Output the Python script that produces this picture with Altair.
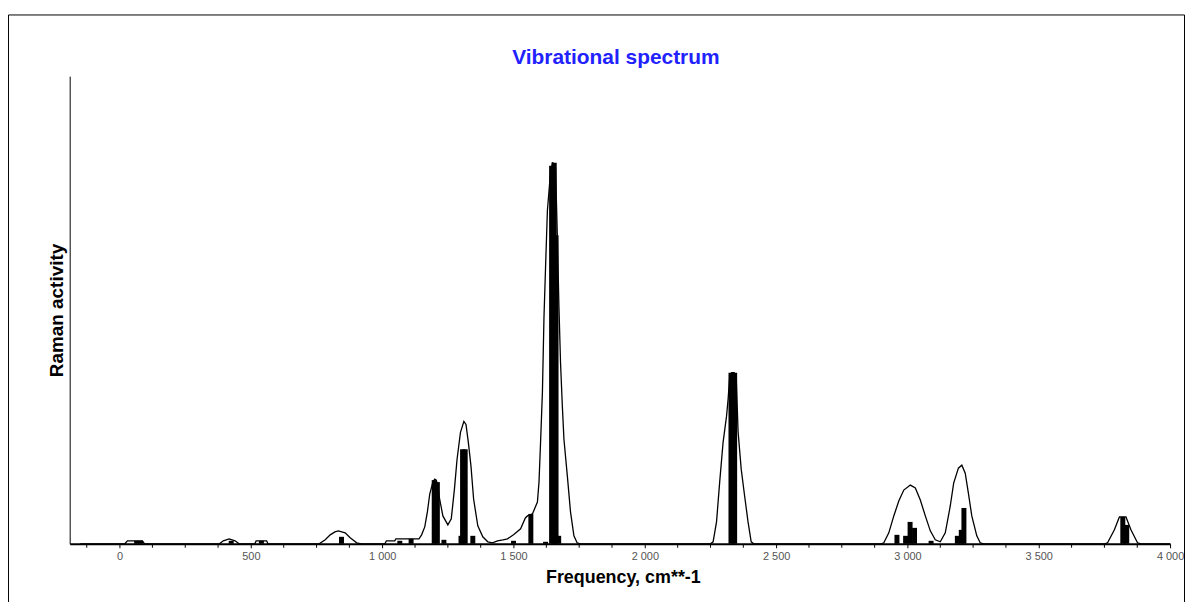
import altair as alt
import pandas as pd

# Broadened spectrum (envelope)
curve_freq = [-150, 20, 30, 87, 95,
              380, 395, 417, 440, 455,
              515, 520, 560, 565,
              760, 783, 802, 820, 833, 859, 878, 903, 920,
              1010, 1016, 1048, 1052, 1140, 1150, 1162, 1172, 1181, 1193, 1200, 1206, 1212, 1218,
              1231, 1250, 1263, 1275, 1285, 1298, 1311, 1319, 1328, 1338, 1348, 1364, 1383, 1402,
              1420, 1439, 1460, 1477, 1500, 1527, 1545, 1553, 1572, 1591, 1597, 1603, 1610, 1616,
              1622, 1629, 1640, 1648, 1655, 1660, 1667, 1673, 1679, 1686, 1692, 1705, 1717, 1730,
              1742, 1755,
              2250, 2260, 2273, 2285, 2298, 2311, 2317, 2323, 2330, 2340, 2348, 2355, 2367, 2380,
              2393, 2405, 2415,
              2900, 2910, 2929, 2948, 2967, 2986, 3011, 3030, 3049, 3068, 3087, 3106, 3125, 3144,
              3163, 3176, 3194, 3207, 3220, 3232, 3245, 3264, 3277, 3290,
              3750, 3762, 3788, 3807, 3832, 3851, 3876, 3890, 4000]
curve_int = [0, 0, 3, 3, 0,
             0, 3, 5, 3, 0,
             0, 3, 3, 0,
             0, 4, 9, 12, 13, 11, 6, 1, 0,
             0, 3, 3, 5, 5, 9, 17, 32, 50, 62, 65, 64, 58, 46,
             28, 19, 25, 55, 85, 112, 123, 120, 102, 78, 45, 18, 7, 2,
             1, 3, 4, 5, 9, 15, 26, 28, 30, 42, 62, 102, 152, 228,
             278, 335, 370, 383, 382, 378, 308, 238, 182, 138, 105, 68, 32, 8,
             1, 0,
             0, 2, 22, 62, 102, 128, 145, 167, 172, 172, 168, 113, 75, 48,
             22, 2, 0,
             0, 1, 11, 28, 43, 54, 59, 56, 44, 28, 13, 4, 2, 11,
             38, 61, 76, 79, 71, 51, 28, 8, 1, 0,
             0, 1, 14, 27, 27, 14, 1, 0, 0]

# Stick spectrum (individual modes)
bar_freq = [65, 80, 425, 540, 845, 1067, 1110, 1198, 1210, 1235, 1300, 1306, 1316, 1345,
            1500, 1566, 1622, 1645, 1655, 1662, 1672, 2328, 2342, 2960, 2993, 3010, 3027,
            3090, 3190, 3205, 3215, 3820, 3835]
bar_int = [3, 3, 3, 3, 7, 3, 5, 64, 62, 4, 8, 95, 95, 8,
           3, 30, 2, 380, 383, 310, 8, 172, 172, 9, 8, 22, 16,
           3, 8, 14, 36, 27, 19]

# Axis ticks
x_label_values = [0, 500, 1000, 1500, 2000, 2500, 3000, 3500, 4000]
x_minor_ticks = [-125, 125, 250, 375, 625, 750, 875, 1125, 1250, 1375, 1625, 1750, 1875,
                 2125, 2250, 2375, 2625, 2750, 2875, 3125, 3250, 3375, 3625, 3750, 3875]
x_domain = [-190, 4000]
y_domain = [0, 470]

FONT = "Liberation Sans"

curve_df = pd.DataFrame({"freq": curve_freq, "val": curve_int})
bar_df = pd.DataFrame({"freq": bar_freq, "val": bar_int})
minor_df = pd.DataFrame({"freq": x_minor_ticks})

x_scale = alt.Scale(domain=x_domain, nice=False, zero=False, padding=0)
y_scale = alt.Scale(domain=y_domain, nice=False, zero=False, padding=0)

x_axis = alt.Axis(
    values=x_label_values,
    labelExpr="replace(format(datum.value, ','), ',', ' ')",
    labelOverlap=False, labelFlush=False,
    labelFont=FONT, labelFontSize=11, labelColor="#555555", labelPadding=3,
    domainColor="black", domainWidth=2,
    tickColor="black", tickSize=4, tickWidth=1,
    grid=False,
    title="Frequency, cm**-1", titleFont=FONT, titleFontSize=18, titleFontWeight="bold",
    titleColor="black", titlePadding=7, titleX=556,
)
y_axis = alt.Axis(
    labels=False, ticks=False, grid=False,
    domainColor="black", domainWidth=1,
    title="Raman activity", titleFont=FONT, titleFontSize=19, titleFontWeight="bold",
    titleColor="black", titlePadding=3,
)

frame = alt.Chart(pd.DataFrame({"a": [0]})).mark_rect(
    fill="white", fillOpacity=0, stroke="black", strokeWidth=1
).encode(
    x=alt.value(-61.5), x2=alt.value(1120.5), y=alt.value(-61.5), y2=alt.value(560)
)

curve = alt.Chart(curve_df).mark_line(color="black", strokeWidth=1.3).encode(
    x=alt.X("freq:Q", scale=x_scale, axis=x_axis),
    y=alt.Y("val:Q", scale=y_scale, axis=y_axis),
)

bars = alt.Chart(bar_df).mark_bar(color="black", size=5).encode(
    x=alt.X("freq:Q", scale=x_scale),
    y=alt.Y("val:Q", scale=y_scale),
)

minor = alt.Chart(minor_df).mark_rule(color="black", strokeWidth=1).encode(
    x=alt.X("freq:Q", scale=x_scale),
    y=alt.value(471),
    y2=alt.value(474),
)

chart = alt.layer(frame, curve, bars, minor).properties(
    width=1106,
    height=470,
    padding={"left": 62, "top": 67, "right": 15, "bottom": 57},
    autosize=alt.AutoSizeParams(type="none"),
    title=alt.TitleParams(
        "Vibrational spectrum", color="#2222ff", font=FONT, fontSize=21,
        fontWeight="bold", offset=-53.5, anchor="middle", dx=-4,
    ),
).configure(background="white").configure_view(strokeWidth=0, stroke="transparent")

chart.save("out.html", embed_options={"renderer": "svg", "actions": False})
